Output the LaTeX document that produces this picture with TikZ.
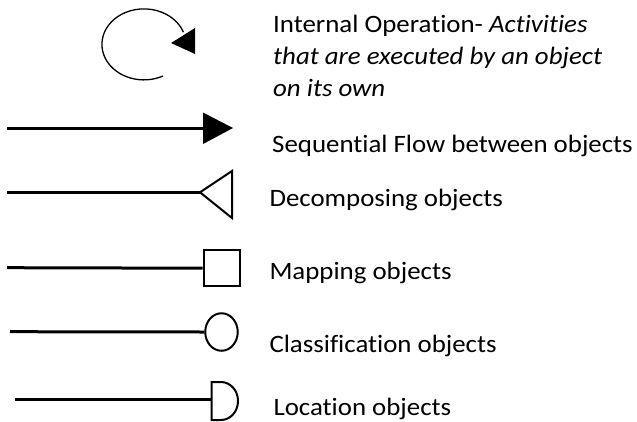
\documentclass[tikz,border=0pt]{standalone}
\usepackage{fontspec}
\setmainfont[FakeStretch=1.075,Ligatures=NoCommon]{Carlito}
\usetikzlibrary{shapes.geometric}
\begin{document}
\begin{tikzpicture}[x=1pt,y=-1pt,
  conn/.style={line width=3pt},
  markline/.style={draw, line width=2pt, inner sep=0pt},
  lbl/.style={anchor=base west, inner sep=0pt, font=\fontsize{25}{32}\selectfont, align=left}]
\useasboundingbox (0,0) rectangle (637,421);

% internal operation loop
\coordinate (loopS) at (163,76);
\draw[line width=1.3pt] (loopS) arc[start angle=63, end angle=340, x radius=42, y radius=35.5];
\fill (171,43) -- (195,28) -- (195,54) -- cycle;
\node[lbl] (t1) at (273,96.5) {Internal Operation- \textit{Activities}\\\textit{that are executed by an object}\\\textit{on its own}};

% sequential flow
\coordinate (a0) at (7,128);
\coordinate (a1) at (204,128);
\draw[conn] (a0) -- (a1);
\fill (203,112.5) -- (233,128) -- (203,144) -- cycle;
\node[lbl] (t2) at (272,152) {Sequential Flow between objects};

% decomposing
\coordinate (d0) at (7,192.3);
\coordinate (d1) at (200,192.3);
\draw[conn] (d0) -- (d1);
\draw[line width=2pt, line join=miter] (d1) -- (232,171) -- (232,218) -- cycle;
\node[lbl] (t3) at (269.3,206) {Decomposing objects};

% mapping
\node[markline, minimum size=36pt] (map) at (221.7,268.2) {};
\coordinate (m0) at (7,267.7);
\draw[conn] (m0) -- (map.west);
\node[lbl] (t4) at (269.3,279.3) {Mapping objects};

% classification
\node[markline, ellipse, minimum width=32.5pt, minimum height=37.5pt] (cls) at (221.5,332) {};
\coordinate (c0) at (10,331.7);
\draw[conn] (c0) -- (cls.west);
\node[lbl] (t5) at (269.3,352.7) {Classification objects};

% location
\coordinate (l0) at (15,399.3);
\coordinate (l1) at (211.7,399.3);
\draw[conn] (l0) -- (l1);
\draw[line width=2pt] (211.7,382) -- (221,382) arc[start angle=-90, end angle=90, x radius=17, y radius=19] -- (211.7,420) -- cycle;
\node[lbl] (t6) at (273.3,415.5) {Location objects};
\end{tikzpicture}
\end{document}
